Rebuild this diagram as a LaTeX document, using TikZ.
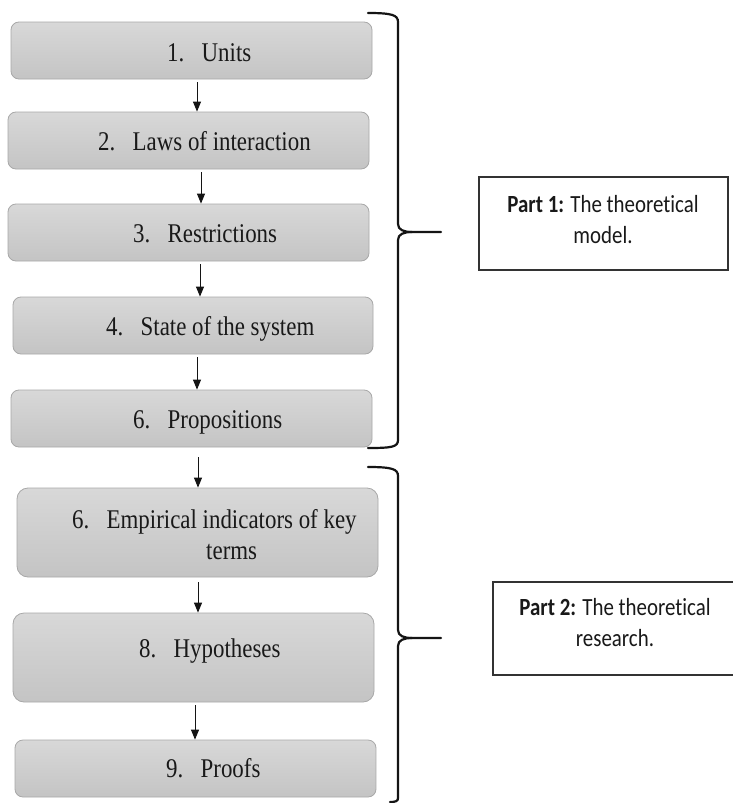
\documentclass[tikz,border=0pt]{standalone}
\usepackage{fontspec}
\usepackage{graphicx}
\setmainfont{Liberation Serif}
\newfontfamily\calfont[Ligatures={NoCommon}]{Carlito}
\usetikzlibrary{arrows.meta}
\newcommand{\vstr}[1]{\scalebox{1}[1.18]{#1}}
\newcommand{\numtab}[1]{\makebox[34.5pt][l]{#1}}
\definecolor{boxtop}{RGB}{216,216,216}
\definecolor{boxbot}{RGB}{196,196,196}
\definecolor{boxedge}{RGB}{168,168,168}
\definecolor{inkdark}{RGB}{20,20,20}
\tikzset{
  stepbox/.style={draw=boxedge, line width=0.8pt, top color=boxtop, bottom color=boxbot,
    rounded corners=8pt, inner sep=0pt},
  steptext/.style={inner sep=0pt, anchor=base west, font=\fontsize{22.9}{27}\selectfont, text=black!90},
  arr/.style={-{Triangle[length=10pt,width=8pt]}, line width=1pt, draw=inkdark},
  bracepath/.style={line width=2.2pt, draw=inkdark, line cap=round},
  partbox/.style={draw=black!80, line width=1.3pt, fill=white, inner sep=0pt},
  parttext/.style={inner sep=0pt, anchor=base, font=\calfont\fontsize{20.9}{26.5}\selectfont, text=black!90}
}
\begin{document}
\begin{tikzpicture}[x=1pt,y=-1pt]
\useasboundingbox[fill=white] (0,0) rectangle (733,803);

% step boxes
\node[stepbox, minimum width=361pt, minimum height=57pt] (b1) at (191.5,50.5) {};
\node[stepbox, minimum width=361pt, minimum height=57pt] (b2) at (188.5,140.5) {};
\node[stepbox, minimum width=361pt, minimum height=57pt] (b3) at (188.5,232.5) {};
\node[stepbox, minimum width=360pt, minimum height=57pt] (b4) at (193,325.5) {};
\node[stepbox, minimum width=361pt, minimum height=57pt] (b5) at (191.5,418.5) {};
\node[stepbox, minimum width=361pt, minimum height=89pt, rounded corners=11pt] (b6) at (197.5,532.5) {};
\node[stepbox, minimum width=361pt, minimum height=89pt, rounded corners=11pt] (b8) at (193.5,657.5) {};
\node[stepbox, minimum width=361pt, minimum height=57pt] (b9) at (195.5,768.5) {};

% step texts
\node[steptext] (t1) at (167,61) {\vstr{\numtab{1.}Units}};
\node[steptext] (t2) at (98,150) {\vstr{\numtab{2.}Laws of interaction}};
\node[steptext] (t3) at (133,242) {\vstr{\numtab{3.}Restrictions}};
\node[steptext] (t4) at (106,335) {\vstr{\numtab{4.}State of the system}};
\node[steptext] (t5) at (133,428) {\vstr{\numtab{6.}Propositions}};
\node[steptext] (t6) at (72,528) {\vstr{\numtab{6.}\begin{tabular}[t]{@{}c@{}}Empirical indicators of key\\terms\end{tabular}}};
\node[steptext] (t8) at (139,657) {\vstr{\numtab{8.}Hypotheses}};
\node[steptext] (t9) at (166,777) {\vstr{\numtab{9.}Proofs}};

% arrows
\draw[arr] ([xshift=5.5pt,yshift=-3pt]b1.south) -- ([xshift=8.5pt]b2.north);
\draw[arr] ([xshift=12.5pt,yshift=-3pt]b2.south) -- ([xshift=12.5pt]b3.north);
\draw[arr] ([xshift=11.5pt,yshift=-3pt]b3.south) -- ([xshift=7pt]b4.north);
\draw[arr] ([xshift=4pt,yshift=-3pt]b4.south) -- ([xshift=5.5pt]b5.north);
\draw[arr] ([xshift=6.5pt,yshift=-10pt]b5.south) -- ([xshift=0.5pt]b6.north);
\draw[arr] ([xshift=0.5pt,yshift=-5pt]b6.south) -- ([xshift=4.5pt]b8.north);
\draw[arr] ([xshift=1.5pt,yshift=-3pt]b8.south) -- ([xshift=-0.5pt]b9.north);

% part boxes
\node[partbox, minimum width=249pt, minimum height=93pt] (p1) at (603.5,223.5) {};
\node[partbox, minimum width=245pt, minimum height=93pt] (p2) at (615.5,628.5) {};
\node[parttext] (p1t) at (603,212) {\vstr{\begin{tabular}[t]{@{}c@{}}\textbf{Part 1:} The theoretical\\model.\end{tabular}}};
\node[parttext] (p2t) at (615,615) {\vstr{\begin{tabular}[t]{@{}c@{}}\textbf{Part 2:} The theoretical\\research.\end{tabular}}};

% braces
\coordinate (br1tip) at (441,232);
\coordinate (br2tip) at (441,638);
\draw[bracepath] (368,13) .. controls (392,13) and (398,15) .. (398,22) -- (398,224)
  .. controls (398,230) and (404,232) .. (412,232) -- (br1tip);
\draw[bracepath] (412,232) .. controls (404,232) and (398,234) .. (398,240) -- (398,440)
  .. controls (398,447) and (392,448) .. (368,448);
\draw[bracepath] (368,467) .. controls (392,467) and (398,469) .. (398,476) -- (398,630)
  .. controls (398,636) and (404,638) .. (412,638) -- (br2tip);
\draw[bracepath] (412,638) .. controls (404,638) and (398,640) .. (398,646) -- (398,798)
  .. controls (398,801) and (396,802) .. (390,802);
\end{tikzpicture}
\end{document}
